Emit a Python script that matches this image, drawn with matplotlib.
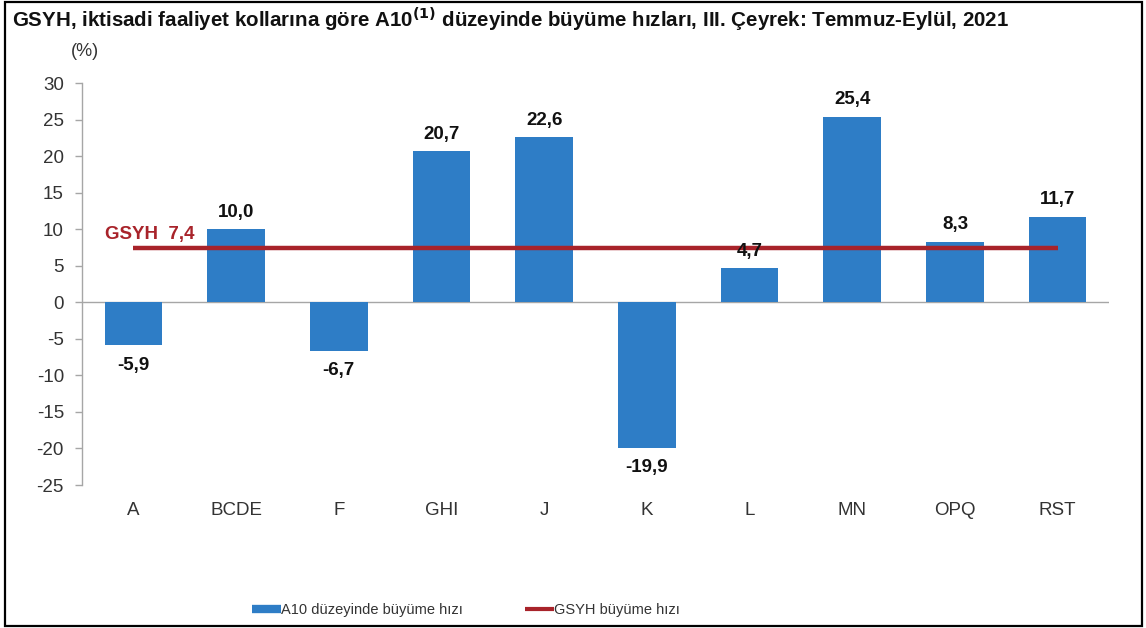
import matplotlib
matplotlib.use("Agg")
import matplotlib.pyplot as plt
from matplotlib.lines import Line2D
from matplotlib.patches import Rectangle
import numpy as np

plt.rcParams['font.family'] = ['Liberation Sans', 'DejaVu Sans']

categories = ["A", "BCDE", "F", "GHI", "J", "K", "L", "MN", "OPQ", "RST"]
growth = [-5.9, 10.0, -6.7, 20.7, 22.6, -19.9, 4.7, 25.4, 8.3, 11.7]
gdp_growth = 7.4
yticks = [30, 25, 20, 15, 10, 5, 0, -5, -10, -15, -20, -25]

title = "GSYH, iktisadi faaliyet kollarına göre A10$^{\\mathbf{(1)}}$ düzeyinde büyüme hızları, III. Çeyrek: Temmuz-Eylül, 2021"
bar_label = "A10 düzeyinde büyüme hızı"
line_label = "GSYH büyüme hızı"

W, H = 1146, 628
fig = plt.figure(figsize=(W / 100, H / 100), dpi=100)
ax = fig.add_axes([82 / W, 1 - 485 / H, (1109 - 82) / W, (485 - 83) / H])

bar_color = "#2E7DC6"
line_color = "#A8232A"
x = np.arange(len(categories))
ax.bar(x, growth, width=0.56, color=bar_color, zorder=2)
ax.plot([x[0], x[-1]], [gdp_growth, gdp_growth], color=line_color, lw=3.2, zorder=3,
        solid_capstyle="butt")
ax.axhline(0, color="#A6A6A6", lw=1, zorder=1)

for xi, v in zip(x, growth):
    s = f"{v:.1f}".replace(".", ",")
    if v >= 0:
        ax.annotate(s, (xi, v), xytext=(0, 6), textcoords="offset points",
                    ha="center", va="bottom", fontsize=13.5, fontweight="bold", color="#111111")
    else:
        ax.annotate(s, (xi, v), xytext=(0, -8), textcoords="offset points",
                    ha="center", va="top", fontsize=13.5, fontweight="bold", color="#111111")

ax.annotate(f"GSYH  {gdp_growth:.1f}".replace(".", ","), (x[0], gdp_growth),
            xytext=(12, 4), textcoords="offset points", ha="center", va="bottom",
            fontsize=13.5, fontweight="bold", color=line_color)

ax.set_xlim(-0.5, len(categories) - 0.5)
ax.set_ylim(-25, 30)
ax.set_yticks(yticks)
ax.set_yticklabels([str(t) for t in yticks], fontsize=13.5, color="#333333")
ax.set_xticks(x)
ax.set_xticklabels(categories, fontsize=13.5, color="#333333")
ax.tick_params(axis="x", length=0, pad=12)
ax.tick_params(axis="y", length=5, width=1, color="#A6A6A6", direction="out", pad=8)
for sp in ["top", "right", "bottom"]:
    ax.spines[sp].set_visible(False)
ax.spines["left"].set_color("#A6A6A6")
ax.spines["left"].set_linewidth(1)

fig.text(12 / W, 1 - 19 / H, title, fontsize=14.8, fontweight="bold", va="center", ha="left",
         color="#111111")
fig.text(85 / W, 1 - 52 / H, "(%)", fontsize=13, va="center", ha="center", color="#333333")

handles = [Line2D([0], [0], color=bar_color, lw=6, solid_capstyle="butt"),
           Line2D([0], [0], color=line_color, lw=3, solid_capstyle="butt")]
fig.legend(handles, [bar_label, line_label], loc="center", bbox_to_anchor=(466 / W, 1 - 610 / H),
           ncol=2, frameon=False, fontsize=10.5, handlelength=2.0, handletextpad=0.0,
           columnspacing=4.25, labelcolor="#333333")

fig.patches.append(Rectangle((5 / W, 2 / H), (1142 - 5) / W, (626 - 2) / H,
                             transform=fig.transFigure, fill=False, edgecolor="black", lw=1.6))

fig.savefig("out.png", dpi=100)
